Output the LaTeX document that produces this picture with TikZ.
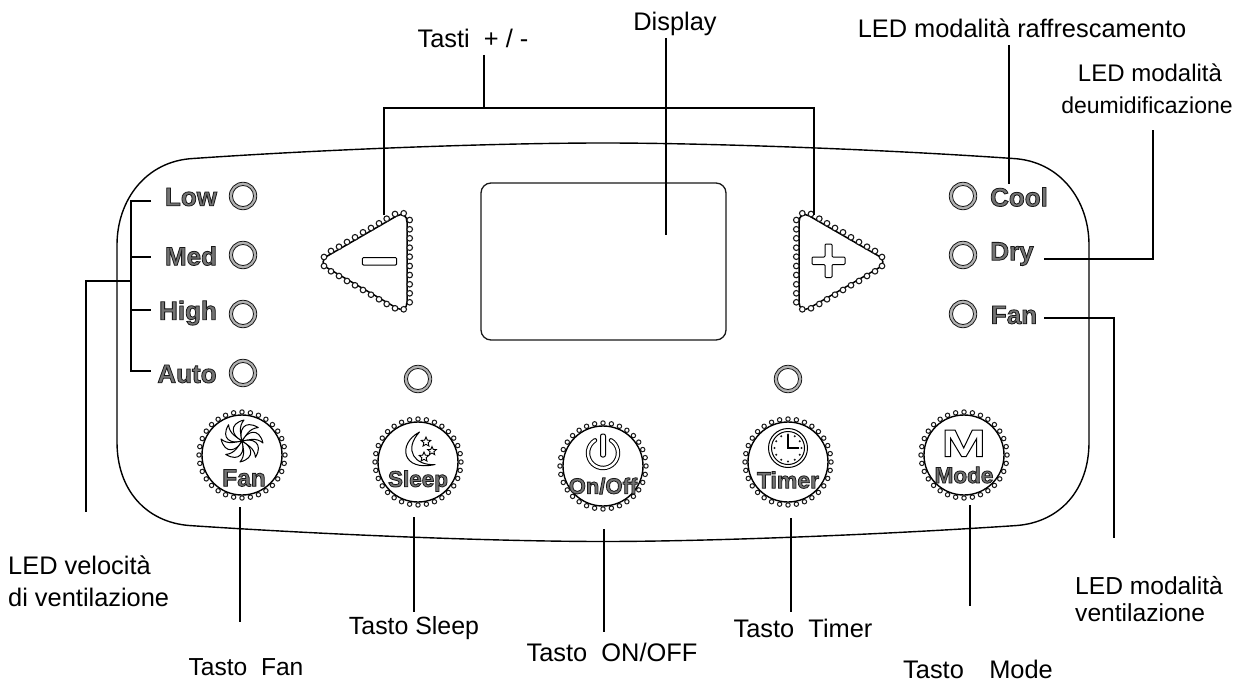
\documentclass[tikz,border=0pt]{standalone}
\usepackage{fontspec}
\setmainfont{Liberation Sans}
\usetikzlibrary{calc,shapes.geometric}
\newcommand{\outl}[2][26]{\fontsize{#1}{#1}\bfseries\special{pdf:code 2 Tr 0.8 w 0.45 g 0.1 G}#2\special{pdf:code 0 Tr 0 g 0 G}}
\tikzset{
  x=1pt,y=-1pt,
  conn/.style={line width=2.4pt,line cap=butt,line join=miter},
  lbl/.style={inner sep=0pt,font=\fontsize{25.4}{29}\selectfont,align=center},
  lblleft/.style={lbl,anchor=west,align=left},
  ledout/.style={circle,draw=black!90,fill=black!30,line width=0.8pt,minimum size=27.5pt,inner sep=0pt},
  ledin/.style={circle,draw=black!90,fill=white,line width=0.8pt,minimum size=21pt,inner sep=0pt},
  bead/.style={draw=black!90,fill=white,line width=1.1pt},
  btn/.style={circle,draw=black,fill=white,line width=1.4pt,minimum size=80pt,inner sep=0pt},
  icon/.style={draw=black,fill=white,line width=1pt,line join=round},
  btext/.style={inner sep=0pt},
  padtri/.pic={
    \draw[line width=1.5pt,rounded corners=12pt] (317,262) -- (407,210) -- (407,314) -- cycle;
    \foreach \bx/\by in {403.7/213.3,395/214,386.7/218.7,379/223.3,371/228,363/232.3,355/237.3,347/242,339/246.7,331/251,324/257,
      324/266,331/271.3,339/276,347/281,355/285.3,363/290,371/294.7,379/299.3,386.7/304,395/308.3,403.7/309.3,
      409.7/220,409.7/229.3,409.7/238.3,409.7/247.7,409.7/256.7,409.7/266,409.7/275,409.7/284.3,409.7/293.3,409.7/302.3}
      \draw[bead] (\bx,\by) circle (2.8);
  }
}
\newcommand{\led}[3]{\node[ledout] (#1) at (#2,#3) {};\node[ledin] (#1in) at (#2,#3) {};}
\newcommand{\button}[3]{%
  \foreach \a in {0,11.25,...,349} \draw[bead,line width=1pt] ($(#2,#3)+(\a:43)$) circle (2.2);
  \node[btn] (#1) at (#2,#3) {};}
\begin{document}
\begin{tikzpicture}
\useasboundingbox (0,0) rectangle (1248,682);
% panel
\draw[line width=1.4pt] (193,158.5) .. controls (330,149) and (500,143) .. (603,143)
  .. controls (706,143) and (876,149) .. (1013,158.5)
  .. controls (1060,161) and (1089,200) .. (1089,245) -- (1089,442)
  .. controls (1089,490) and (1060,522) .. (1017,525.5)
  .. controls (876,535) and (706,541.5) .. (603,541.5)
  .. controls (500,541.5) and (330,535) .. (189,525.5)
  .. controls (146,522) and (117,490) .. (117,442) -- (117,245)
  .. controls (117,200) and (146,161) .. (193,158.5) -- cycle;
% display
\node[draw=black!90,line width=1.3pt,rounded corners=10pt,minimum width=245pt,minimum height=157pt,inner sep=0pt] (display) at (603.5,261.5) {};
% triangles
\pic (triL) at (0,0) {padtri};
\pic[xscale=-1] (triR) at (1206,0) {padtri};
\draw[icon,rounded corners=1pt] (362.3,257.7) rectangle (396.7,265);
\draw[icon,rounded corners=1pt] (825,244) -- (832,244) -- (832,257) -- (845,257) -- (845,264.5) -- (832,264.5) -- (832,277.5) -- (825,277.5) -- (825,264.5) -- (812,264.5) -- (812,257) -- (825,257) -- cycle;
% LEDs
\led{ledLow}{243}{196}\led{ledMed}{243}{255}\led{ledHigh}{243}{314}\led{ledAuto}{243}{373}
\led{ledSleep}{418}{379}\led{ledTimer}{788}{379}
\led{ledCool}{963}{196}\led{ledDry}{963}{255}\led{ledFan}{963}{314}
% LED texts
\node[btext] (tLow) at (191,197) {\outl{Low}};
\node[btext] (tMed) at (191,256) {\outl{Med}};
\node[btext] (tHigh) at (188,313) {\outl{High}};
\node[btext] (tAuto) at (187,374) {\outl{Auto}};
\node[btext] (tCool) at (1019,197) {\outl{Cool}};
\node[btext] (tDry) at (1012,254) {\outl{Dry}};
\node[btext] (tFan) at (1014,315) {\outl{Fan}};
% buttons
\button{btnFan}{242}{455}
\button{btnSleep}{418}{462}
\button{btnOn}{603}{466}
\button{btnTimer}{788}{462}
\button{btnMode}{964}{455}
\node[btext] (bFan) at (244,478) {\outl[24.5]{Fan}};
\node[btext] (bSleep) at (418,481) {\outl[22.5]{Sleep}};
\node[btext] (bOn) at (603,486) {\outl[22]{On/Off}};
\node[btext] (bTimer) at (788,480) {\outl[23]{Timer}};
\node[btext] (bMode) at (964,475) {\outl[22.5]{Mode}};
% fan icon
\foreach \r in {0,45,...,315}
  \draw[icon,rotate around={\r:(242,441)}] (242,441) .. controls (232,436) and (228,424) .. (244,420) .. controls (238,427) and (241,435) .. cycle;
% moon + stars
\draw[icon] (419.5,432) .. controls (397,444) and (402,472) .. (435,464.5) .. controls (415,466) and (403,450) .. cycle;
\node[star,star points=5,star point ratio=2.2,draw=black,line width=0.9pt,inner sep=0pt,minimum size=10pt] (starA) at (426,442) {};
\node[star,star points=5,star point ratio=2.2,draw=black,line width=0.9pt,inner sep=0pt,minimum size=9pt] (starB) at (432,451) {};
\node[star,star points=5,star point ratio=2.2,draw=black,line width=0.9pt,inner sep=0pt,minimum size=10pt] (starC) at (424,457) {};
% power
\draw[black,line width=4.4pt,line cap=round] (603,453) ++(-58:15) arc[start angle=-58,end angle=238,radius=15];
\draw[white,line width=2.4pt,line cap=round] (603,453) ++(-58:15) arc[start angle=-58,end angle=238,radius=15];
\draw[icon,fill=white,rounded corners=2pt] (600.5,434) rectangle (605.5,457);
% timer
\node[circle,draw=black,line width=1pt,minimum size=39pt,inner sep=0pt] (clockA) at (788,448) {};
\node[circle,draw=black,line width=1pt,minimum size=33pt,inner sep=0pt] (clockB) at (788,448) {};
\foreach \a in {0,30,...,330} \fill[black!90] ($(788,448)+(\a:13.5)$) circle (1.1);
\draw[line width=1.8pt,black] (788,435) -- (788,448) -- (799,448);
% M
\draw[icon,line join=miter] (945,430) -- (955,430) -- (963.7,448) -- (972.3,430) -- (982.3,430) -- (982.3,456.7) -- (976.7,456.7) -- (976.7,438.5) -- (966,456.7) -- (961.7,456.7) -- (950.7,438.5) -- (950.7,456.7) -- (945,456.7) -- cycle;
% outside labels
\node[lbl] (lTasti) at (473,38) {Tasti \ + / -};
\node[lbl] (lDisplay) at (675,24) {Display};
\node[lbl] (lCool) at (1022,28) {LED modalità raffrescamento};
\node[lbl] (lDryA) at (1150,73) {\fontsize{24}{29}\selectfont LED modalità};
\node[lbl] (lDryB) at (1147,105) {\fontsize{23}{29}\selectfont deumidificazione};
\node[lblleft] (lSpeed) at (8,581) {LED velocità\\[3pt]di ventilazione};
\node[lblleft,font=\fontsize{24.6}{27}\selectfont] (lVent) at (1075,599) {LED modalità\\ventilazione};
\node[lbl,font=\fontsize{24.6}{29}\selectfont] (lFan) at (246,667) {Tasto \ Fan};
\node[lbl,font=\fontsize{24.9}{29}\selectfont] (lSleep) at (414,628) {Tasto Sleep};
\node[lbl] (lOn) at (612,652) {Tasto \ ON/OFF};
\node[lbl] (lTimer) at (803,628) {Tasto \ Timer};
\node[lbl] (lMode) at (978,669) {Tasto \ \ \,Mode};
% connector end points
\foreach \n/\cx/\cy in {tastiTop/484/55,tastiMid/484/108,tastiL/384/215,tastiR/814/215,
  dispA/666/38,dispB/666/235,coolA/1009/45,coolB/1009/184,
  dryA/1044/259,dryB/1153/259,dryC/1153/130,fanA/1044/318,fanB/1114/318,fanC/1114/538,
  brTop/131/201,brBot/131/371,brTickA/151/201,brTickB/151/257,brTickC/151/310,brTickD/151/371,
  brB/131/257,brC/131/310,brJoin/131/281,brOut/86/281,brEnd/86/512,
  fA/240/507,fB/240/622,sA/414/517,sB/414/612,oA/604/529,oB/604/632,tA/791/518,tB/791/612,mA/970/505,mB/970/606}
  \coordinate (\n) at (\cx,\cy);
\draw[conn] (tastiTop) -- (tastiMid);
\draw[conn] (tastiL) |- (tastiMid) -| (tastiR);
\draw[conn] (dispA) -- (dispB);
\draw[conn] (coolA) -- (coolB);
\draw[conn] (dryA) -- (dryB) -- (dryC);
\draw[conn] (fanA) -- (fanB) -- (fanC);
\draw[conn] (brTickA) -- (brTop) -- (brBot) -- (brTickD);
\draw[conn] (brB) -- (brTickB);
\draw[conn] (brC) -- (brTickC);
\draw[conn] (brJoin) -- (brOut) -- (brEnd);
\draw[conn] (fA) -- (fB);
\draw[conn] (sA) -- (sB);
\draw[conn] (oA) -- (oB);
\draw[conn] (tA) -- (tB);
\draw[conn] (mA) -- (mB);
\end{tikzpicture}
\end{document}
